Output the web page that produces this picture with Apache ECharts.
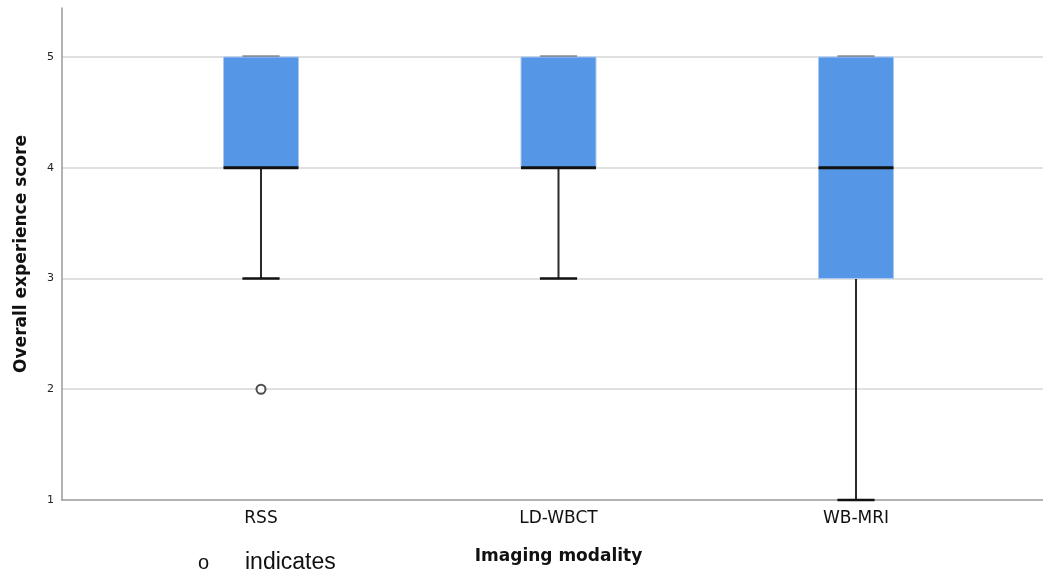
<!DOCTYPE html>
<html>
<head>
<meta charset="utf-8">
<script src="https://cdn.jsdelivr.net/npm/echarts@6/dist/echarts.min.js"></script>
<style>
html,body{margin:0;padding:0;background:#fff;}
#chart{width:1043px;height:575px;}
</style>
</head>
<body>
<div id="chart"></div>
<script>
// ---- data ----
const categories = ['RSS', 'LD-WBCT', 'WB-MRI'];
const whiskerLow = [3, 3, 1];
const quartile1 = [4, 4, 3];
const medians = [4, 4, 4];
const quartile3 = [5, 5, 5];
const whiskerHigh = [5, 5, 5];
const outliers = [['RSS', 2]];
const yTicks = [1, 2, 3, 4, 5];
const yAxisTitle = 'Overall experience score';
const xAxisTitle = 'Imaging modality';
const noteText = 'indicates';

const boxData = categories.map((c, i) => [i, whiskerLow[i], quartile1[i], medians[i], quartile3[i], whiskerHigh[i]]);

const yMin = yTicks[0];
const yMax = 5.4424;
const FONT = 'DejaVu Sans';

const chart = echarts.init(document.getElementById('chart'), null, {renderer: 'canvas'});

function renderBox(params, api) {
  const idx = api.value(0);
  const band = api.size([1, 0])[0];
  const boxW = band * 0.252;
  const capW = band * 0.125;
  const pLow = api.coord([idx, api.value(1)]);
  const pQ1 = api.coord([idx, api.value(2)]);
  const pMed = api.coord([idx, api.value(3)]);
  const pQ3 = api.coord([idx, api.value(4)]);
  const pHigh = api.coord([idx, api.value(5)]);
  const cx = pMed[0];
  return {
    type: 'group',
    children: [
      {type: 'line', shape: {x1: cx - capW / 2, y1: pHigh[1] - 0.5, x2: cx + capW / 2, y2: pHigh[1] - 0.5},
        style: {stroke: '#555', lineWidth: 2}},
      {type: 'line', shape: {x1: cx, y1: pQ3[1], x2: cx, y2: pHigh[1]},
        style: {stroke: '#222', lineWidth: 2}},
      {type: 'line', shape: {x1: cx, y1: pQ1[1], x2: cx, y2: pLow[1]},
        style: {stroke: '#2a2a2a', lineWidth: 2}},
      {type: 'line', shape: {x1: cx - capW / 2, y1: pLow[1], x2: cx + capW / 2, y2: pLow[1]},
        style: {stroke: '#111', lineWidth: 2.5}},
      {type: 'rect', shape: {x: cx - boxW / 2, y: pQ3[1], width: boxW, height: pQ1[1] - pQ3[1]},
        style: {fill: '#5596e6', stroke: '#a9c9f2', lineWidth: 1}},
      {type: 'line', shape: {x1: cx - boxW / 2, y1: pMed[1], x2: cx + boxW / 2, y2: pMed[1]},
        style: {stroke: '#111', lineWidth: 2.8}}
    ]
  };
}

const option = {
  backgroundColor: '#ffffff',
  animation: false,
  grid: [
    {left: 62, right: 0, top: 8, bottom: 75},
    {left: 112.25, right: 38.25, top: 8, bottom: 75}
  ],
  xAxis: [
    {
      type: 'value', gridIndex: 0, min: 0, max: 1,
      axisLine: {show: true, lineStyle: {color: '#999', width: 1.5}},
      axisTick: {show: false}, axisLabel: {show: false}, splitLine: {show: false}
    },
    {
      type: 'category', gridIndex: 1, data: categories,
      axisLine: {show: false}, axisTick: {show: false},
      axisLabel: {fontFamily: FONT, fontSize: 17, color: '#111', margin: 10},
      name: xAxisTitle, nameLocation: 'middle', nameGap: 48,
      nameTextStyle: {fontFamily: FONT, fontSize: 17, fontWeight: 'bold', color: '#111'}
    }
  ],
  yAxis: [
    {
      type: 'value', gridIndex: 0, min: yMin, max: yMax, interval: 1,
      axisLine: {show: true, lineStyle: {color: '#999', width: 1.5}},
      axisTick: {show: false},
      axisLabel: {fontFamily: FONT, fontSize: 11, color: '#222', margin: 8, showMaxLabel: false,
        formatter: v => (yTicks.indexOf(v) >= 0 ? String(v) : '')},
      splitLine: {show: true, showMinLine: false, showMaxLine: false, lineStyle: {color: '#d6d6d6', width: 1.5}},
      name: yAxisTitle, nameLocation: 'middle', nameRotate: 90, nameGap: 32,
      nameTextStyle: {fontFamily: FONT, fontSize: 17, fontWeight: 'bold', color: '#111'}
    },
    {
      type: 'value', gridIndex: 1, min: yMin, max: yMax, interval: 1, show: false,
      splitLine: {show: false}
    }
  ],
  series: [
    {
      type: 'custom', xAxisIndex: 1, yAxisIndex: 1,
      data: boxData, encode: {x: 0, y: [1, 2, 3, 4, 5]},
      renderItem: renderBox, z: 3
    },
    {
      type: 'scatter', xAxisIndex: 1, yAxisIndex: 1,
      data: outliers, symbol: 'circle', symbolSize: 9,
      itemStyle: {color: '#ffffff', borderColor: '#222', borderWidth: 2}, z: 4
    }
  ],
  graphic: [
    {type: 'text', left: 198, top: 553, style: {text: 'o', font: '20px "Liberation Sans"', fill: '#111'}},
    {type: 'text', left: 245, top: 551, style: {text: noteText, font: '23px "Liberation Sans"', fill: '#111'}}
  ]
};
chart.setOption(option);
</script>
</body>
</html>
